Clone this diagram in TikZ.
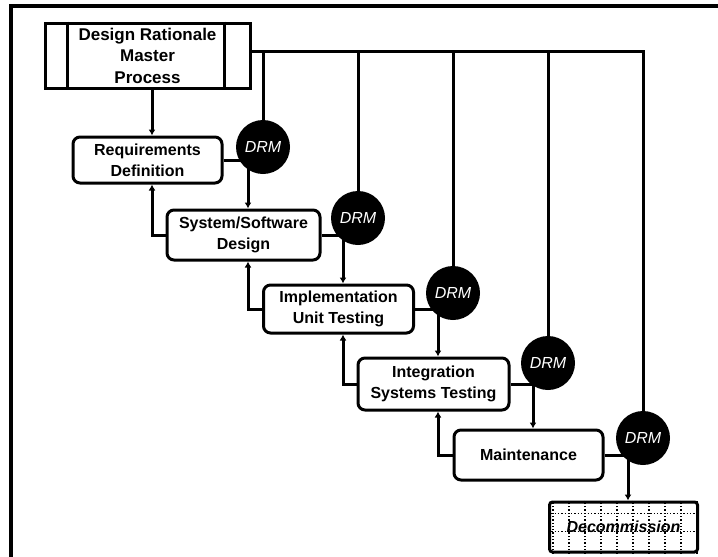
\documentclass[tikz,border=0pt]{standalone}
\usepackage{fontspec}
\setmainfont{Liberation Sans}
\usetikzlibrary{arrows.meta}
\pgfdeclarelayer{wires}
\pgfsetlayers{wires,main}

\begin{document}
\begin{tikzpicture}[x=1pt,y=-1pt,
  phase/.style={draw, line width=3pt, rounded corners=7pt, align=center,
    inner sep=0pt, font=\bfseries\fontsize{16}{21}\selectfont},
  drm/.style={circle, fill=black, minimum size=54pt, inner sep=0pt,
    text=white, font=\itshape\fontsize{16}{16}\selectfont},
  wire/.style={line width=3pt},
  flow/.style={wire, -{Latex[length=6pt,width=7pt]}},
]
\useasboundingbox (0,0) rectangle (718,557);

% frame
\draw[line width=3.5pt] (11,557) -- (11,6) -- (718,6);

% master process box with side panels
\node[draw, line width=3pt, minimum width=205pt, minimum height=65pt, align=center,
      inner sep=0pt, font=\bfseries\fontsize{17}{21.5}\selectfont]
  (master) at (147.5,55.5) {Design Rationale\\Master\\Process};
\draw[line width=3pt] ([xshift=24pt]master.north west) -- ([xshift=24pt]master.south west);
\draw[line width=3pt] ([xshift=-27pt]master.north east) -- ([xshift=-27pt]master.south east);

% life-cycle phases
\node[phase, minimum width=149pt, minimum height=46pt] (req) at (147.5,160) {Requirements\\Definition};
\node[phase, minimum width=153pt, minimum height=50pt] (des) at (243.5,235) {System/Software\\Design};
\node[phase, minimum width=150pt, minimum height=48pt] (imp) at (338.5,309) {Implementation\\Unit Testing};
\node[phase, minimum width=151pt, minimum height=52pt] (int) at (433.5,384) {Integration\\Systems Testing};
\node[phase, minimum width=149pt, minimum height=50pt] (mnt) at (528.5,455) {Maintenance};
\node[phase, rounded corners=3pt, minimum width=148pt, minimum height=50pt,
      font=\bfseries\itshape\fontsize{16}{16}\selectfont] (dec) at (623.5,527) {Decommission};

% review points
\node[drm] (d1) at (263,147) {DRM};
\node[drm] (d2) at (358,218) {DRM};
\node[drm] (d3) at (453,293) {DRM};
\node[drm] (d4) at (548,363) {DRM};
\node[drm] (d5) at (643,438) {DRM};

\begin{pgfonlayer}{wires}
  % dotted grid inside the final box
  \begin{scope}
    \clip (dec.south west) rectangle (dec.north east);
    \foreach \dx in {5,21,...,150}
      \draw[dotted, line width=1.3pt] ([xshift=\dx pt]dec.south west) -- ([xshift=\dx pt]dec.north west);
    \foreach \dy in {13,31}
      \draw[dotted, line width=1.3pt] ([yshift=-\dy pt]dec.north west) -- ([yshift=-\dy pt]dec.north east);
  \end{scope}

  % bus from the master process to every review
  \coordinate (bus) at ([yshift=4.5pt]master.east);
  \draw[wire] (bus) -| (d5);
  \foreach \d in {d1,d2,d3,d4}
    \draw[wire] (\d |- bus) -- (\d);

  % master process into first phase
  \draw[flow] ([xshift=4.5pt]master.south) -- ([xshift=4.5pt]req.north);

  % phase into its review
  \draw[wire] (req.east) -- (req.east -| d1);
  \draw[wire] (des.east) -- (des.east -| d2);
  \draw[wire] (imp.east) -- (imp.east -| d3);
  \draw[wire] (int.east) -- (int.east -| d4);
  \draw[wire] (mnt.east) -- (mnt.east -| d5);

  % review into next phase
  \draw[flow] ([xshift=-15pt]d1.center) -- ([xshift=-15pt]d1.center |- des.north);
  \draw[flow] ([xshift=-15pt]d2.center) -- ([xshift=-15pt]d2.center |- imp.north);
  \draw[flow] ([xshift=-15pt]d3.center) -- ([xshift=-15pt]d3.center |- int.north);
  \draw[flow] ([xshift=-15pt]d4.center) -- ([xshift=-15pt]d4.center |- mnt.north);
  \draw[flow] ([xshift=-15pt]d5.center) -- ([xshift=-15pt]d5.center |- dec.north);

  % feedback to the previous phase
  \draw[flow] (des.west) -| ([xshift=4.5pt]req.south);
  \draw[flow] (imp.west) -| ([xshift=4.5pt]des.south);
  \draw[flow] (int.west) -| ([xshift=4.5pt]imp.south);
  \draw[flow] (mnt.west) -| ([xshift=4.5pt]int.south);
\end{pgfonlayer}
\end{tikzpicture}
\end{document}
